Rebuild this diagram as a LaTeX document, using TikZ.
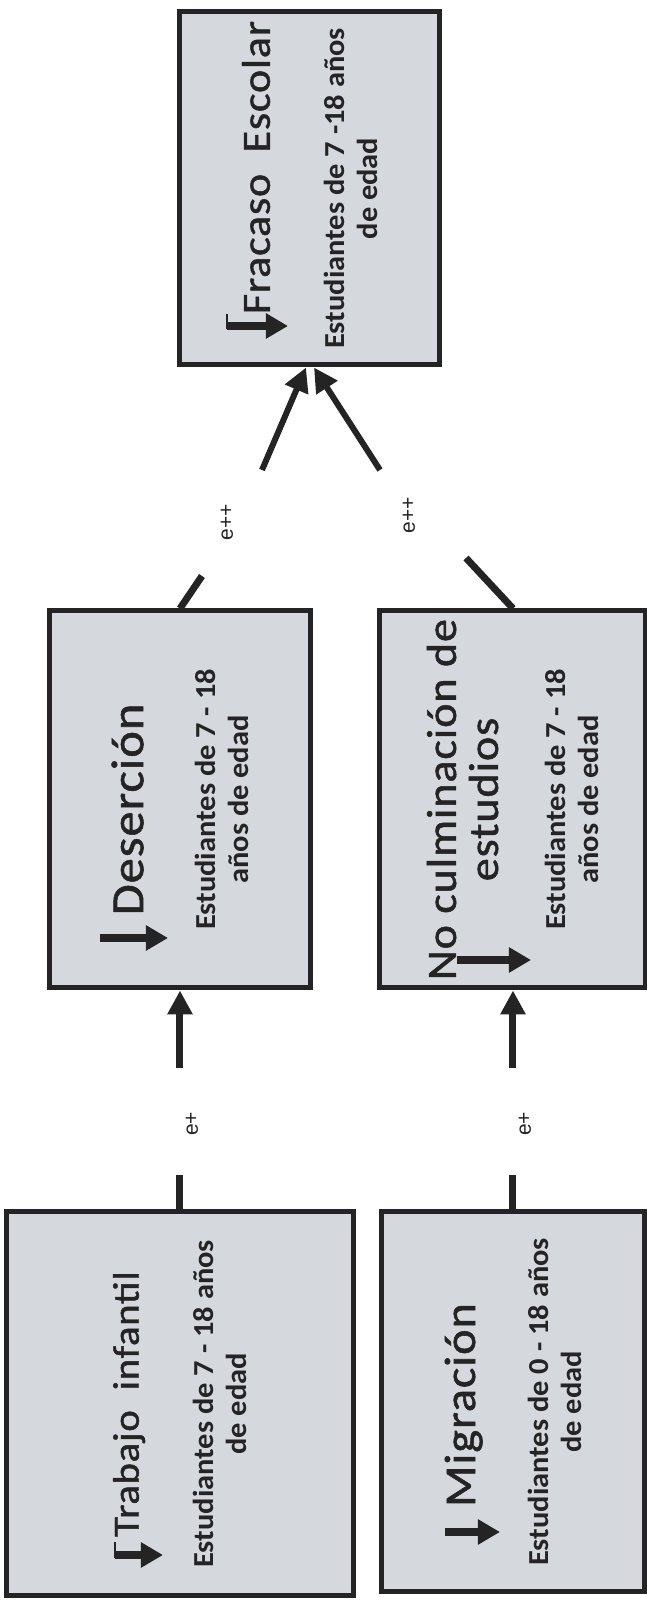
\documentclass[tikz,border=0pt]{standalone}
\usepackage{fontspec}
\setmainfont[FakeStretch=1.05]{Carlito}
\newfontfamily\titlefont[FakeStretch=1.1, LetterSpace=2, FakeBold=1.2]{Carlito}
\newfontfamily\edgefont{Liberation Sans}
\usetikzlibrary{arrows.meta, calc}

\definecolor{boxgray}{RGB}{213,216,221}
\definecolor{ink}{RGB}{36,36,36}

\newcommand{\ttl}[2][20]{{\titlefont\mdseries\fontsize{#1}{#1}\selectfont #2}}

\begin{document}
\begin{tikzpicture}
        [
        x=0.5pt, y=0.5pt, rotate=90, transform shape,
        every node/.style={text=ink},
        factor/.style={draw=ink, line width=2.5pt, fill=boxgray, rectangle, align=center, inner sep=0pt,
            font=\bfseries\fontsize{14.5}{16.5}\selectfont},
        link/.style={draw=ink, line width=3.5pt},
        arrow/.style={link, -{Triangle[length=12pt, width=12pt]}},
        down/.style={draw=ink, line width=4pt, -{Triangle[length=11pt, width=12pt]}},
        tick/.style={draw=ink, line width=1pt},
        effect/.style={font=\edgefont\fontsize{10.5}{12}\selectfont}
        ]

        \useasboundingbox (0,0) rectangle (1606,647);

        % Factors
        \node[factor, minimum width=192pt, minimum height=173.5pt] (trab) at (202,467)
            {\ttl[18.5]{Trabajo\ \ infantil}\\[21pt]Estudiantes de 7 - 18 años\\de edad};
        \node[factor, minimum width=190pt, minimum height=131.5pt] (migr) at (204,134)
            {\hspace*{-3pt}\ttl[22]{Migración}\\[20pt]Estudiantes de 0 - 18 años\\de edad};
        \node[factor, minimum width=188.5pt, minimum height=130.5pt] (dese) at (806.5,467)
            {\hspace*{-10pt}\ttl[23]{Deserción}\\[19.5pt]Estudiantes de 7 - 18\\años de edad};
        \node[factor, minimum width=188.5pt, minimum height=133pt] (nocu) at (806.5,134)
            {\ttl[21]{No culminación de}\\[4.5pt]\ttl[21]{estudios}\\[17.5pt]Estudiantes de 7 - 18\\años de edad};
        \node[factor, minimum width=176.5pt, minimum height=130pt] (frac) at (1417.5,337)
            {\hspace*{21pt}\ttl[20]{Fracaso\ \ Escolar}\\[21pt]Estudiantes de 7 -18 años\\de edad};

        % Decrease marks
        \draw[down] (51,532) -- (51,484);
        \draw[tick] (48,532) -- (64,532);
        \draw[down] (74,202) -- (74,147);
        \draw[down] (668,547) -- (668,479);
        \draw[down] (646,190) -- (646,116);
        \draw[down] (1280,420) -- (1280,359);
        \draw[tick] (1277,420) -- (1292,420);

        % Edges
        \coordinate (te) at (431,467);
        \coordinate (ds) at (538,467);
        \coordinate (me) at (431,134);
        \coordinate (ns) at (538,134);
        \coordinate (df) at (1030,445);
        \coordinate (da) at (1136,385);
        \coordinate (nf) at (1048,181);
        \coordinate (na) at (1136,267);

        \draw[link] (trab) -- (te);
        \draw[arrow] (ds) -- (dese);
        \node[effect] (e1) at (482,455) {e+};

        \draw[link] (migr) -- (me);
        \draw[arrow] (ns) -- (nocu);
        \node[effect] (e2) at (482,122) {e+};

        \draw[link] (dese.east) -- (df);
        \draw[arrow, line width=3pt] (da) -- ($(frac.west)+(0,4)$);
        \node[effect] (e3) at (1084,420) {e++};

        \draw[link] (nocu.east) -- (nf);
        \draw[arrow, line width=3pt] (na) -- ($(frac.west)+(0,-4)$);
        \node[effect] (e4) at (1091,238) {e++};

    \end{tikzpicture}
\end{document}
